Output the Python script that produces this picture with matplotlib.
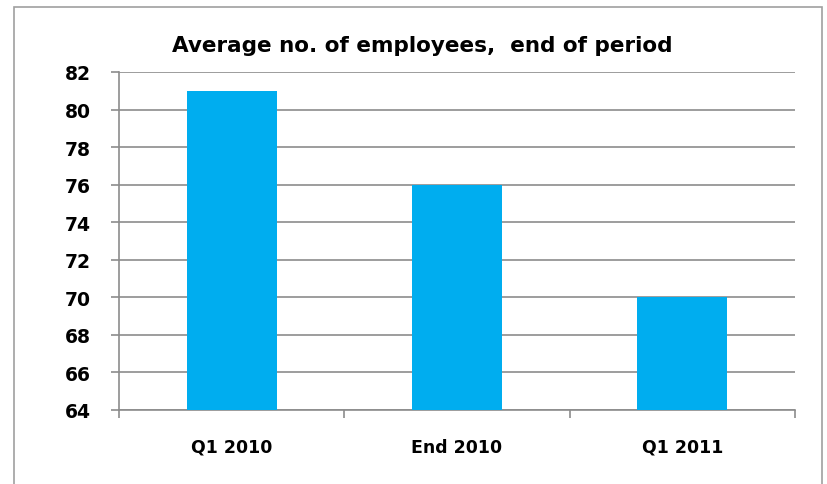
import matplotlib.pyplot as plt
from matplotlib.patches import Rectangle

# data
periods = ['Q1 2010', 'End 2010', 'Q1 2011']
employees = [81, 76, 70]
yticks = [64, 66, 68, 70, 72, 74, 76, 78, 80, 82]

plt.rcParams['font.family'] = ['DejaVu Sans']

W, H = 827, 485
fig = plt.figure(figsize=(W / 100, H / 100), dpi=100)

# chart frame
fig.patches.append(Rectangle((14 / W, -0.05), (822 - 14) / W, 1.05 - 8 / H,
                             transform=fig.transFigure, fill=False,
                             edgecolor='#a0a0a0', linewidth=1.2))

ax = fig.add_axes([119 / W, 1 - 411 / H, (795 - 119) / W, (411 - 73) / H])
x = range(len(periods))
ax.bar(x, employees, width=0.4, color='#00adef', zorder=3)

ax.set_xlim(-0.5, 2.5)
ax.set_ylim(64, 82)
ax.set_yticks(yticks)
ax.set_yticklabels([str(v) for v in yticks], fontsize=13.5, fontweight='bold')
ax.yaxis.grid(True, color='#8c8c8c', linewidth=1.2, zorder=0)
ax.tick_params(axis='y', length=6, color='#8c8c8c', width=1.2, pad=14)

# category ticks sit between the bars
ax.set_xticks([-0.5, 0.5, 1.5, 2.5])
ax.set_xticklabels([])
ax.set_xticks(list(x), minor=True)
ax.set_xticklabels(periods, minor=True, fontsize=12.5, fontweight='bold')
ax.tick_params(axis='x', which='minor', length=0, pad=20)
ax.tick_params(axis='x', which='major', length=6, color='#8c8c8c', width=1.2)

for side in ['top', 'right']:
    ax.spines[side].set_visible(False)
for side in ['left', 'bottom']:
    ax.spines[side].set_color('#8c8c8c')
    ax.spines[side].set_linewidth(1.2)

fig.text(422 / W, 1 - 46 / H, 'Average no. of employees,  end of period',
         ha='center', va='center', fontsize=15.5, fontweight='bold')

fig.savefig('out.png', dpi=100)
